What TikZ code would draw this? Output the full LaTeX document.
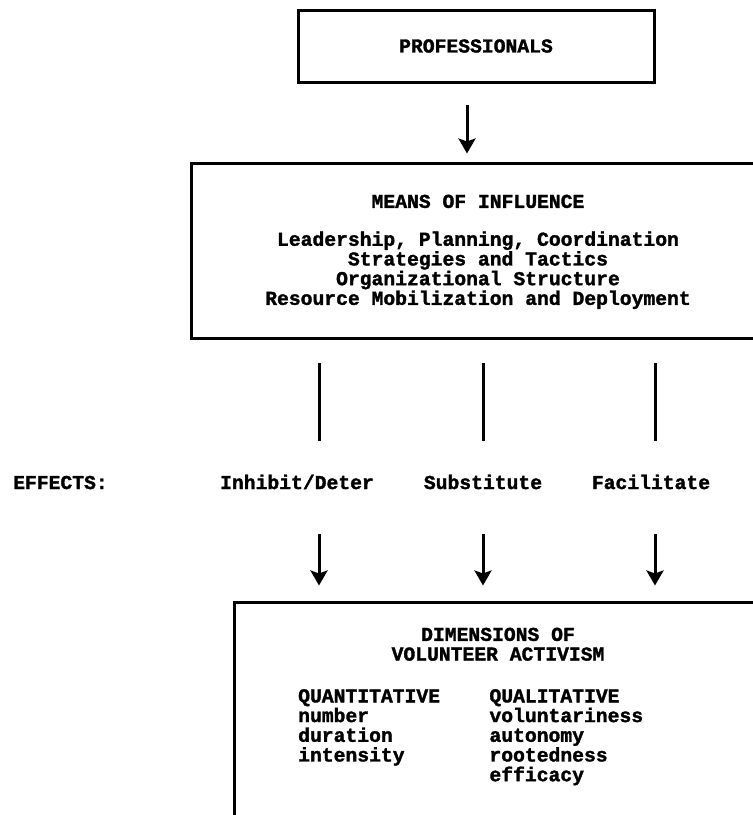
\documentclass[tikz,border=0pt]{standalone}
\usepackage{fontspec}
\setmonofont{Liberation Mono}[BoldFeatures={FakeBold=1.6}]
\usetikzlibrary{positioning,arrows.meta}

\begin{document}
\begin{tikzpicture}[x=1pt, y=-1pt]
    \tikzstyle{box} = [rectangle, draw, line width=3pt, inner sep=0pt]
    \tikzstyle{txt} = [inner sep=0pt, font=\ttfamily\bfseries\fontsize{19.7}{19.7}\selectfont]
    \tikzstyle{effect} = [txt, text height=12pt, text depth=0pt]
    \tikzstyle{link} = [line width=3pt]
    \tikzstyle{arrow} = [line width=3pt, -{Stealth[length=15pt, width=17pt, inset=3pt]}]

    \useasboundingbox (0,0) rectangle (753,815);
    \clip (0,0) rectangle (753,815);

    \node [box, txt, minimum width=356pt, minimum height=72pt] (prof) at (476,46) {PROFESSIONALS};

    \node [box, minimum width=574pt, minimum height=175pt] (means) at (478,250.5) {};
    \node [txt, below=33pt of means.north] (meanstitle) {MEANS OF INFLUENCE};
    \node [txt, align=center, below=23pt of meanstitle] (meansbody) {Leadership, Planning, Coordination\\Strategies and Tactics\\Organizational Structure\\Resource Mobilization and Deployment};

    \node [effect, anchor=west] (effects) at (13,483) {EFFECTS:};
    \node [effect] (inhibit) at (297,483) {Inhibit/Deter};
    \node [effect] (subst) at (483,483) {Substitute};
    \node [effect] (facil) at (651,483) {Facilitate};

    \node [box, minimum width=528pt, minimum height=240pt] (dims) at (498,722) {};
    \node [txt, align=center, below=27pt of dims.north] (dimstitle) {DIMENSIONS OF\\VOLUNTEER ACTIVISM};
    \node [txt, align=left, anchor=north west] (quant) at (298,689) {QUANTITATIVE\\number\\duration\\intensity};
    \node [txt, align=left, right=49pt of quant.north east, anchor=north west] (qual) {QUALITATIVE\\voluntariness\\autonomy\\rootedness\\efficacy};

    % columns of the connectors
    \coordinate (profcol) at (467,0);
    \coordinate (inhibitcol) at (319,0);
    \coordinate (substcol) at (483,0);
    \coordinate (facilcol) at (655,0);

    \draw [arrow, shorten <=21pt, shorten >=8pt] (prof.south -| profcol) -- (means.north -| profcol);

    \draw [link, shorten <=23pt, shorten >=36pt] (means.south -| inhibitcol) -- (inhibit.north -| inhibitcol);
    \draw [link, shorten <=23pt, shorten >=36pt] (means.south -| substcol) -- (subst.north -| substcol);
    \draw [link, shorten <=23pt, shorten >=36pt] (means.south -| facilcol) -- (facil.north -| facilcol);

    \draw [arrow, shorten <=45pt, shorten >=15pt] (inhibit.south -| inhibitcol) -- (dims.north -| inhibitcol);
    \draw [arrow, shorten <=45pt, shorten >=15pt] (subst.south -| substcol) -- (dims.north -| substcol);
    \draw [arrow, shorten <=45pt, shorten >=15pt] (facil.south -| facilcol) -- (dims.north -| facilcol);
\end{tikzpicture}
\end{document}
